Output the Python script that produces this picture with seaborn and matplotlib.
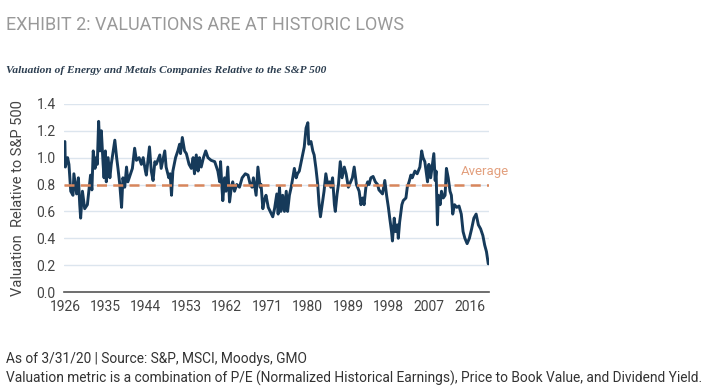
import pandas as pd
import seaborn as sns
import matplotlib.pyplot as plt

# Values (year, valuation relative to S&P 500)
years = [
    1926.0, 1926.1, 1926.6, 1926.9, 1927.3, 1927.8, 1928.0, 1928.6, 1929.0, 1929.3,
    1929.5, 1929.9, 1930.4, 1931.0, 1931.4, 1931.7, 1932.0, 1932.3, 1932.7, 1933.0,
    1933.2, 1933.5, 1933.8, 1934.1, 1934.5, 1934.7, 1935.0, 1935.2, 1935.6, 1936.0,
    1936.3, 1937.1, 1937.5, 1937.8, 1938.2, 1938.6, 1938.9, 1939.3, 1939.7, 1940.0,
    1940.6, 1941.0, 1941.5, 1941.9, 1942.5, 1943.0, 1943.4, 1943.9, 1944.1, 1944.8,
    1945.2, 1945.6, 1946.0, 1946.3, 1947.1, 1947.4, 1948.2, 1948.5, 1949.1, 1949.4,
    1949.7, 1950.0, 1950.6, 1951.1, 1951.5, 1951.7, 1952.1, 1952.6, 1953.0, 1953.6,
    1954.1, 1954.5, 1954.8, 1955.2, 1955.6, 1955.9, 1956.3, 1956.8, 1957.3, 1957.8,
    1958.5, 1959.3, 1960.0, 1960.4, 1960.6, 1960.9, 1961.1, 1961.5, 1961.8, 1962.2,
    1962.6, 1963.0, 1963.3, 1963.7, 1964.2, 1964.8, 1965.4, 1966.1, 1966.7, 1967.2,
    1967.6, 1967.9, 1968.5, 1968.9, 1969.4, 1969.6, 1970.0, 1970.3, 1970.7, 1971.2,
    1972.2, 1972.6, 1973.1, 1973.4, 1973.7, 1974.0, 1974.4, 1974.8, 1975.2, 1975.5,
    1975.9, 1976.3, 1977.0, 1977.4, 1977.7, 1978.1, 1978.7, 1979.2, 1979.6, 1980.0,
    1980.2, 1980.7, 1981.1, 1981.4, 1981.8, 1982.2, 1982.5, 1982.8, 1983.1, 1983.4,
    1983.6, 1984.0, 1984.4, 1984.8, 1985.1, 1985.5, 1985.9, 1986.1, 1986.5, 1986.8,
    1987.2, 1987.6, 1988.1, 1988.5, 1989.0, 1989.9, 1990.3, 1990.8, 1991.4, 1991.8,
    1992.2, 1992.5, 1992.9, 1993.3, 1993.6, 1994.0, 1994.5, 1995.0, 1995.5, 1995.8,
    1996.6, 1997.1, 1997.5, 1997.9, 1998.2, 1998.6, 1998.8, 1999.2, 1999.5, 1999.9,
    2000.1, 2000.4, 2000.9, 2001.2, 2001.8, 2002.1, 2002.5, 2002.9, 2003.2, 2003.8,
    2004.3, 2004.9, 2005.3, 2005.6, 2006.0, 2006.6, 2006.9, 2007.3, 2007.7, 2008.0,
    2008.3, 2008.5, 2008.8, 2009.0, 2009.4, 2009.7, 2010.1, 2010.5, 2010.8, 2011.2,
    2011.6, 2011.9, 2012.2, 2012.6, 2013.1, 2013.6, 2014.1, 2014.5, 2014.9, 2015.4,
    2015.9, 2016.4, 2016.9, 2017.4, 2017.9, 2018.4, 2018.9, 2019.3, 2019.7, 2020.1,
]
valuation = [
    1.12, 0.93, 1.00, 0.95, 0.75, 0.72, 0.88, 0.73, 0.85, 0.65,
    0.55, 0.75, 0.62, 0.65, 0.78, 0.87, 0.76, 1.05, 0.92, 1.00,
    0.95, 1.27, 1.05, 1.20, 0.95, 0.85, 1.05, 0.82, 1.00, 0.85,
    0.95, 1.13, 1.00, 0.92, 0.80, 0.63, 0.85, 0.78, 0.93, 0.82,
    0.88, 0.92, 1.07, 0.98, 1.00, 0.95, 1.00, 0.90, 0.87, 1.08,
    0.90, 0.83, 0.97, 0.95, 1.02, 0.92, 1.05, 0.93, 0.85, 0.88,
    0.72, 0.90, 1.00, 1.05, 1.10, 1.03, 1.15, 1.05, 1.03, 0.95,
    0.92, 1.00, 0.88, 1.02, 0.90, 1.00, 0.93, 1.00, 1.05, 1.00,
    0.98, 0.97, 0.90, 0.82, 0.97, 0.78, 0.68, 0.85, 0.75, 0.93,
    0.67, 0.78, 0.82, 0.75, 0.80, 0.78, 0.85, 0.88, 0.87, 0.80,
    0.78, 0.85, 0.72, 0.93, 0.78, 0.80, 0.62, 0.68, 0.72, 0.63,
    0.56, 0.62, 0.73, 0.58, 0.78, 0.60, 0.72, 0.60, 0.75, 0.60,
    0.72, 0.78, 0.92, 0.85, 0.88, 0.90, 1.00, 1.08, 1.22, 1.26,
    1.10, 1.12, 1.05, 1.02, 0.92, 0.80, 0.65, 0.56, 0.63, 0.70,
    0.75, 0.88, 0.80, 0.82, 0.78, 0.85, 0.65, 0.60, 0.73, 0.80,
    0.97, 0.85, 0.93, 0.88, 0.78, 0.85, 0.93, 0.80, 0.75, 0.65,
    0.70, 0.65, 0.78, 0.82, 0.80, 0.85, 0.86, 0.82, 0.80, 0.76,
    0.73, 0.83, 0.72, 0.63, 0.55, 0.45, 0.38, 0.55, 0.45, 0.50,
    0.40, 0.52, 0.65, 0.68, 0.70, 0.78, 0.82, 0.87, 0.85, 0.90,
    0.88, 0.93, 1.05, 1.00, 0.97, 0.82, 0.95, 0.85, 0.95, 1.03,
    0.83, 0.90, 0.50, 0.72, 0.65, 0.75, 0.70, 0.72, 0.92, 0.85,
    0.75, 0.72, 0.58, 0.65, 0.63, 0.64, 0.58, 0.45, 0.40, 0.36,
    0.40, 0.47, 0.55, 0.58, 0.50, 0.47, 0.42, 0.35, 0.30, 0.21,
]
average = 0.8
x_ticks = [1926, 1935, 1944, 1953, 1962, 1971, 1980, 1989, 1998, 2007, 2016]
y_ticks = [0.0, 0.2, 0.4, 0.6, 0.8, 1.0, 1.2, 1.4]

df = pd.DataFrame({'year': years, 'valuation': valuation})

sns.set_theme(style='white')
plt.rcParams['font.family'] = ['Roboto', 'DejaVu Sans']

fig = plt.figure(figsize=(7.11, 3.92), dpi=100)
ax = fig.add_axes([0.090, 0.255, 0.598, 0.480])

# horizontal grid lines
for yv in y_ticks[1:]:
    ax.axhline(yv, color='#dce5ee', lw=1.0, zorder=0)

sns.lineplot(data=df, x='year', y='valuation', ax=ax, color='#163a5a', lw=2.1, zorder=3)
ax.axhline(average, color='#d8865c', lw=1.8, ls=(0, (4, 2.5)), zorder=4)
ax.text(2014.0, 0.90, 'Average', color='#e3a07e', fontsize=9.5, va='center', ha='left',
        clip_on=False)

ax.set_xlim(1925.8, 2020.3)
ax.set_ylim(0, 1.4)
ax.set_xticks(x_ticks)
ax.set_yticks(y_ticks)
ax.set_yticklabels([f'{v:.1f}' for v in y_ticks])
ax.tick_params(axis='both', labelsize=10, colors='#444444', length=0, pad=6)
ax.set_xlabel('')
ax.set_ylabel('Valuation  Relative to S&P 500', fontsize=10.5, color='#444444', labelpad=8)

for side in ['left', 'right', 'top']:
    ax.spines[side].set_visible(False)
ax.spines['bottom'].set_color('#555555')
ax.spines['bottom'].set_linewidth(1.2)

fig.text(0.008, 0.937, 'EXHIBIT 2: VALUATIONS ARE AT HISTORIC LOWS', fontsize=13,
         color='#999999', va='center', ha='left')
fig.text(0.008, 0.820, 'Valuation of Energy and Metals Companies Relative to the S&P 500',
         fontsize=8.2, color='#2c3e50', family='Liberation Serif', style='italic',
         fontweight='bold', va='center', ha='left')
fig.text(0.008, 0.085, 'As of 3/31/20 | Source: S&P, MSCI, Moodys, GMO', fontsize=9.9,
         color='#333333', va='center', ha='left')
fig.text(0.008, 0.035, 'Valuation metric is a combination of P/E (Normalized Historical Earnings), '
         'Price to Book Value, and Dividend Yield.', fontsize=9.9, color='#333333',
         va='center', ha='left')

fig.savefig('out.png', dpi=100)
